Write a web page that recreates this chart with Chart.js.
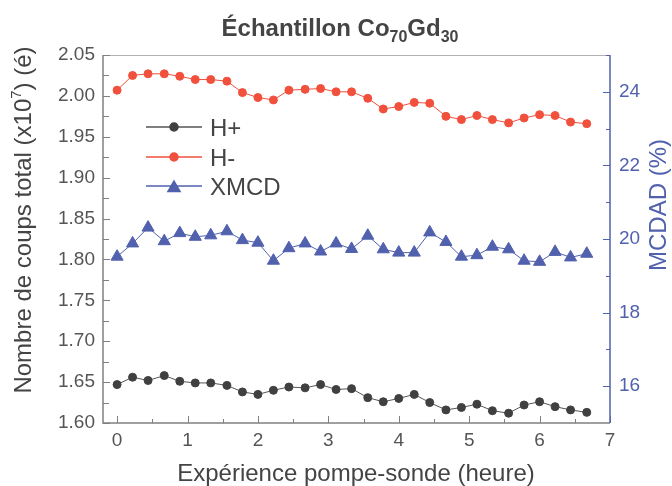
<!DOCTYPE html>
<html>
<head>
<meta charset="utf-8">
<script src="https://cdn.jsdelivr.net/npm/chart.js@4/dist/chart.umd.min.js"></script>
<style>
  html, body { margin: 0; padding: 0; background: #fff; }
</style>
</head>
<body>
<canvas id="chart" width="672" height="486"></canvas>
<script>
// temps de mesure (heure)
const heures = [0, 0.22, 0.44, 0.67, 0.89, 1.11, 1.33, 1.56, 1.78, 2.00, 2.22, 2.44, 2.67, 2.89, 3.11, 3.33,
                3.56, 3.78, 4.00, 4.22, 4.44, 4.67, 4.89, 5.11, 5.33, 5.56, 5.78, 6.00, 6.22, 6.44, 6.67];
// nombre de coups (x10^7)
const hPlus = [1.647, 1.656, 1.652, 1.658, 1.651, 1.649, 1.649, 1.646, 1.638, 1.635, 1.640, 1.644, 1.643, 1.647, 1.641, 1.642,
               1.631, 1.626, 1.630, 1.635, 1.625, 1.616, 1.619, 1.623, 1.615, 1.612, 1.622, 1.626, 1.620, 1.616, 1.613];
const hMoins = [2.007, 2.025, 2.027, 2.027, 2.024, 2.020, 2.020, 2.018, 2.004, 1.998, 1.995, 2.007, 2.008, 2.009, 2.005, 2.005,
                1.997, 1.984, 1.987, 1.992, 1.991, 1.975, 1.971, 1.976, 1.971, 1.967, 1.973, 1.977, 1.976, 1.968, 1.966];
// MCDAD (%)
const xmcd = [19.52, 19.88, 20.31, 19.94, 20.16, 20.06, 20.10, 20.21, 19.97, 19.90, 19.41, 19.75, 19.88, 19.66, 19.88, 19.73,
              20.09, 19.72, 19.63, 19.63, 20.18, 19.92, 19.52, 19.56, 19.79, 19.72, 19.41, 19.38, 19.65, 19.50, 19.60];

// graduations
const xTicks = [0, 1, 2, 3, 4, 5, 6, 7];
const gaucheTicks = [1.60, 1.65, 1.70, 1.75, 1.80, 1.85, 1.90, 1.95, 2.00, 2.05];
const droiteTicks = [16, 18, 20, 22, 24];

const GRIS = '#808080';
const TEXTE = '#444444';
const BLEU = '#5161ad';
const ROUGE = '#f0503c';
const NOIR = '#404040';
const POLICE = '"Liberation Sans", Arial, sans-serif';

function points(ys) {
    return heures.map((h, i) => ({ x: h, y: ys[i] }));
}

// cadre + graduations vers l'intérieur
const cadre = {
    id: 'cadre',
    beforeDatasetsDraw(chart) {
        const ctx = chart.ctx;
        const a = chart.chartArea;
        const sx = chart.scales.x, sg = chart.scales.y, sd = chart.scales.y1;
        ctx.save();
        ctx.lineWidth = 1;
        // haut
        ctx.strokeStyle = '#b0b0b0';
        ctx.beginPath(); ctx.moveTo(a.left, a.top + 0.5); ctx.lineTo(a.right, a.top + 0.5); ctx.stroke();
        // gauche + bas
        ctx.strokeStyle = GRIS;
        ctx.lineWidth = 1.5;
        ctx.beginPath(); ctx.moveTo(a.left, a.top); ctx.lineTo(a.left, a.bottom); ctx.lineTo(a.right, a.bottom); ctx.stroke();
        // ticks x
        ctx.lineWidth = 1;
        for (let i = 0; i < xTicks.length; i++) {
            let px = Math.round(sx.getPixelForValue(xTicks[i])) + 0.5;
            ctx.beginPath(); ctx.moveTo(px, a.bottom); ctx.lineTo(px, a.bottom - 7); ctx.stroke();
            if (i < xTicks.length - 1) {
                px = Math.round(sx.getPixelForValue((xTicks[i] + xTicks[i + 1]) / 2)) + 0.5;
                ctx.beginPath(); ctx.moveTo(px, a.bottom); ctx.lineTo(px, a.bottom - 4); ctx.stroke();
            }
        }
        // ticks gauche
        for (let i = 0; i < gaucheTicks.length; i++) {
            let py = Math.round(sg.getPixelForValue(gaucheTicks[i])) + 0.5;
            ctx.beginPath(); ctx.moveTo(a.left, py); ctx.lineTo(a.left + 7, py); ctx.stroke();
            if (i < gaucheTicks.length - 1) {
                py = Math.round(sg.getPixelForValue((gaucheTicks[i] + gaucheTicks[i + 1]) / 2)) + 0.5;
                ctx.beginPath(); ctx.moveTo(a.left, py); ctx.lineTo(a.left + 6, py); ctx.stroke();
            }
        }
        // axe droit (bleu)
        ctx.strokeStyle = BLEU;
        ctx.lineWidth = 1.5;
        ctx.beginPath(); ctx.moveTo(a.right, a.top); ctx.lineTo(a.right, a.bottom); ctx.stroke();
        ctx.lineWidth = 1;
        const mins = [droiteTicks[0] - 1].concat(droiteTicks.map(v => v + 1));
        droiteTicks.forEach(v => {
            const py = Math.round(sd.getPixelForValue(v)) + 0.5;
            ctx.beginPath(); ctx.moveTo(a.right, py); ctx.lineTo(a.right - 7, py); ctx.stroke();
        });
        mins.forEach(v => {
            const py = Math.round(sd.getPixelForValue(v)) + 0.5;
            if (py > a.top && py < a.bottom) {
                ctx.beginPath(); ctx.moveTo(a.right, py); ctx.lineTo(a.right - 4, py); ctx.stroke();
            }
        });
        ctx.restore();
    },
    afterDraw(chart) {
        const ctx = chart.ctx;
        ctx.save();
        // titre avec indices
        const titre = [['Échantillon Co', false], ['70', true], ['Gd', false], ['30', true]];
        const fGrand = 'bold 24px ' + POLICE, fPetit = 'bold 16px ' + POLICE;
        let larg = 0;
        titre.forEach(p => { ctx.font = p[1] ? fPetit : fGrand; larg += ctx.measureText(p[0]).width; });
        let x = 340 - larg / 2;
        ctx.fillStyle = TEXTE;
        ctx.textBaseline = 'alphabetic';
        ctx.textAlign = 'left';
        titre.forEach(p => {
            ctx.font = p[1] ? fPetit : fGrand;
            ctx.fillText(p[0], x, p[1] ? 42 : 36);
            x += ctx.measureText(p[0]).width;
        });

        // titre axe x
        ctx.font = '24px ' + POLICE;
        ctx.textAlign = 'center';
        ctx.fillText('Expérience pompe-sonde (heure)', 356, 481);

        // titre axe gauche avec exposant
        const gauche = [['Nombre de coups total (x10', false], ['7', true], [') (é)', false]];
        ctx.save();
        ctx.translate(31, 220);
        ctx.rotate(-Math.PI / 2);
        larg = 0;
        gauche.forEach(p => { ctx.font = (p[1] ? 15 : 24) + 'px ' + POLICE; larg += ctx.measureText(p[0]).width; });
        x = -larg / 2;
        ctx.textAlign = 'left';
        gauche.forEach(p => {
            ctx.font = (p[1] ? 15 : 24) + 'px ' + POLICE;
            ctx.fillText(p[0], x, p[1] ? -10 : 0);
            x += ctx.measureText(p[0]).width;
        });
        ctx.restore();

        // titre axe droit
        ctx.save();
        ctx.translate(666, 205);
        ctx.rotate(-Math.PI / 2);
        ctx.font = '24px ' + POLICE;
        ctx.fillStyle = BLEU;
        ctx.textAlign = 'center';
        ctx.fillText('MCDAD (%)', 0, 0);
        ctx.restore();

        // légende
        const rangs = [127, 157, 186];
        chart.data.datasets.forEach((ds, i) => {
            const y = rangs[i];
            ctx.strokeStyle = ds.borderColor;
            ctx.lineWidth = 1.5;
            ctx.beginPath(); ctx.moveTo(146, y); ctx.lineTo(202, y); ctx.stroke();
            ctx.fillStyle = ds.pointBackgroundColor;
            ctx.strokeStyle = ds.pointBorderColor;
            Chart.helpers.drawPoint(ctx, {
                pointStyle: ds.pointStyle, radius: ds.pointRadius, rotation: 0, borderWidth: ds.pointBorderWidth
            }, 174, ds.pointStyle === 'triangle' ? y + 2 : y);
            ctx.fillStyle = TEXTE;
            ctx.font = '24px ' + POLICE;
            ctx.textAlign = 'left';
            ctx.textBaseline = 'alphabetic';
            ctx.fillText(ds.label, 210, y + 9);
        });
        ctx.restore();
    }
};

new Chart(document.getElementById('chart'), {
    type: 'scatter',
    data: {
        datasets: [
            {
                label: 'H+', data: points(hPlus), yAxisID: 'y', showLine: true,
                borderColor: '#555555', borderWidth: 1,
                pointStyle: 'circle', pointRadius: 4, pointBorderWidth: 1,
                pointBackgroundColor: NOIR, pointBorderColor: NOIR
            },
            {
                label: 'H-', data: points(hMoins), yAxisID: 'y', showLine: true,
                borderColor: ROUGE, borderWidth: 1,
                pointStyle: 'circle', pointRadius: 4, pointBorderWidth: 1,
                pointBackgroundColor: ROUGE, pointBorderColor: ROUGE
            },
            {
                label: 'XMCD', data: points(xmcd), yAxisID: 'y1', showLine: true,
                borderColor: BLEU, borderWidth: 1,
                pointStyle: 'triangle', pointRadius: 7, pointBorderWidth: 1,
                pointBackgroundColor: BLEU, pointBorderColor: BLEU
            }
        ]
    },
    options: {
        responsive: false,
        animation: false,
        layout: { padding: { top: 55, left: 0, right: 0, bottom: 0 } },
        plugins: { legend: { display: false }, tooltip: { enabled: false } },
        elements: { line: { tension: 0 } },
        scales: {
            x: {
                type: 'linear', position: 'bottom', min: -0.2, max: 7,
                afterBuildTicks: s => { s.ticks = xTicks.map(v => ({ value: v })); },
                afterFit: s => { s.height = 63; },
                grid: { display: false, drawTicks: false },
                border: { display: false },
                ticks: { padding: 6, color: '#555', font: { size: 19, family: POLICE }, callback: v => String(v) }
            },
            y: {
                type: 'linear', position: 'left', min: 1.60, max: 2.05,
                afterBuildTicks: s => { s.ticks = gaucheTicks.map(v => ({ value: v })); },
                afterFit: s => { s.width = 103; },
                grid: { display: false, drawTicks: false },
                border: { display: false },
                ticks: { padding: 8, color: '#555', font: { size: 19, family: POLICE }, callback: v => v.toFixed(2) }
            },
            y1: {
                type: 'linear', position: 'right', min: 15, max: 25,
                afterBuildTicks: s => { s.ticks = droiteTicks.map(v => ({ value: v })); },
                afterFit: s => { s.width = 62; },
                grid: { display: false, drawTicks: false },
                border: { display: false },
                ticks: { padding: 9, color: BLEU, font: { size: 19, family: POLICE }, callback: v => String(v) }
            }
        }
    },
    plugins: [cadre]
});
</script>
</body>
</html>
